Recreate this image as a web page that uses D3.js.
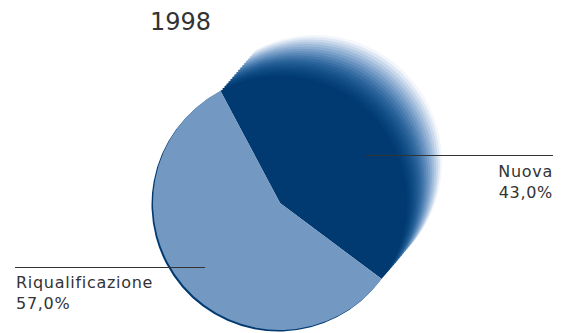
<!DOCTYPE html>
<html>
<head>
<meta charset="utf-8">
<script src="https://cdn.jsdelivr.net/npm/d3@7/dist/d3.min.js"></script>
<style>
  html, body { margin: 0; padding: 0; background: #fff; }
  svg text { font-family: "DejaVu Sans", "Noto Sans", sans-serif; fill: #333; }
</style>
</head>
<body>
<svg id="chart" width="572" height="333"></svg>
<script>
// Slice data
const title = "1998";
const categories = ["Nuova", "Riqualificazione"];
const values = [43.0, 57.0];
const valueLabels = ["43,0%", "57,0%"];
const colors = ["#003a70", "#7399c3"];

const svg = d3.select("#chart");
const cx = 280, cy = 203, radius = 127;

const pie = d3.pie().sort(null).value(d => d.value)
  .startAngle(-28 * Math.PI / 180)
  .endAngle(-28 * Math.PI / 180 + 2 * Math.PI);
const arcs = pie(categories.map((c, i) => ({ name: c, value: values[i], label: valueLabels[i], color: colors[i] })));
const arc = d3.arc().innerRadius(0).outerRadius(radius);

const g = svg.append("g").attr("transform", `translate(${cx},${cy})`);

// Fading trail behind the "Nuova" slice, drawn from far to near
const trailSteps = 18;
const trailDx = 35, trailDy = -41;
const fade = d3.interpolateRgbBasis([colors[0], "#1b5a94", "#7fa4cf", "#f3f6fb"]);
for (let k = trailSteps; k >= 1; k--) {
  const t = k / trailSteps;
  g.append("path")
    .attr("d", arc(arcs[0]))
    .attr("transform", `translate(${trailDx * t},${trailDy * t})`)
    .attr("fill", fade(Math.pow(t, 1.1)));
}

// Thin dark rim under the light slice
g.append("path")
  .attr("d", arc(arcs[1]))
  .attr("transform", "translate(-1.5,1.5)")
  .attr("fill", colors[0]);

// Main slices
g.selectAll("path.slice")
  .data(arcs)
  .join("path")
  .attr("class", "slice")
  .attr("d", arc)
  .attr("fill", d => d.data.color);

// Title
svg.append("text")
  .attr("x", 150).attr("y", 30)
  .attr("font-size", 24)
  .text(title);

// Leader lines and labels
const labelSpec = [
  { x1: 365, x2: 553, y: 155, tx: 553, anchor: "end", ty: 177 },
  { x1: 15, x2: 205, y: 267, tx: 16, anchor: "start", ty: 288 }
];
arcs.forEach((a, i) => {
  const s = labelSpec[i];
  svg.append("line")
    .attr("x1", s.x1).attr("x2", s.x2)
    .attr("y1", s.y + 0.5).attr("y2", s.y + 0.5)
    .attr("stroke", "#333").attr("stroke-width", 1);
  svg.append("text")
    .attr("x", s.tx).attr("y", s.ty)
    .attr("text-anchor", s.anchor)
    .attr("font-size", 16)
    .attr("letter-spacing", 0.7)
    .text(a.data.name);
  svg.append("text")
    .attr("x", s.tx).attr("y", s.ty + 21)
    .attr("text-anchor", s.anchor)
    .attr("font-size", 16)
    .attr("letter-spacing", 0.7)
    .text(a.data.label);
});
</script>
</body>
</html>
